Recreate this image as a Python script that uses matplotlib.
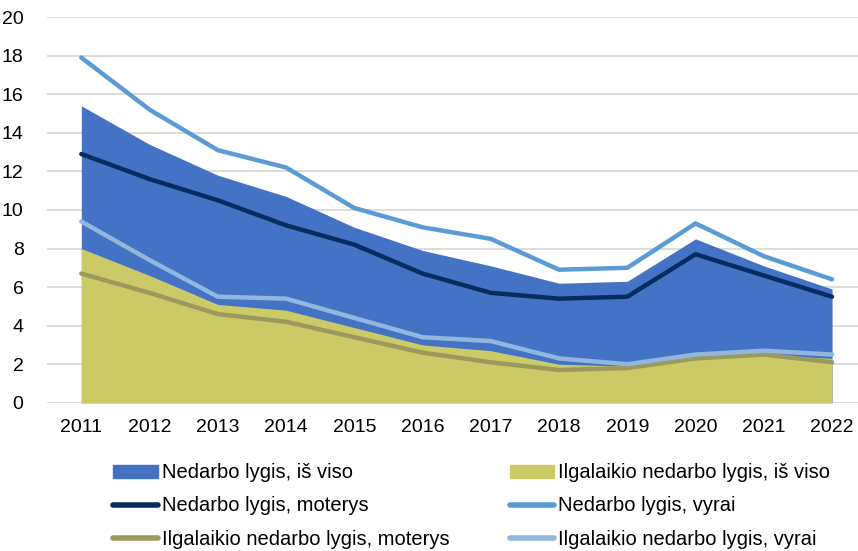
import numpy as np
import matplotlib.pyplot as plt
from matplotlib.patches import Patch
from matplotlib.lines import Line2D

plt.rcParams['font.family'] = ['Liberation Sans', 'DejaVu Sans']

# Duomenys
metai = ['2011', '2012', '2013', '2014', '2015', '2016', '2017', '2018', '2019', '2020', '2021', '2022']
nedarbo_viso = [15.4, 13.4, 11.8, 10.7, 9.1, 7.9, 7.1, 6.2, 6.3, 8.5, 7.1, 5.9]
ilgalaikio_viso = [8.0, 6.6, 5.1, 4.8, 3.9, 3.0, 2.7, 2.0, 1.9, 2.3, 2.5, 2.3]
nedarbo_moterys = [12.9, 11.6, 10.5, 9.2, 8.2, 6.7, 5.7, 5.4, 5.5, 7.7, 6.6, 5.5]
nedarbo_vyrai = [17.9, 15.2, 13.1, 12.2, 10.1, 9.1, 8.5, 6.9, 7.0, 9.3, 7.6, 6.4]
ilgalaikio_moterys = [6.7, 5.7, 4.6, 4.2, 3.4, 2.6, 2.1, 1.7, 1.8, 2.3, 2.5, 2.1]
ilgalaikio_vyrai = [9.4, 7.4, 5.5, 5.4, 4.4, 3.4, 3.2, 2.3, 2.0, 2.5, 2.7, 2.5]

x = np.arange(len(metai))

fig = plt.figure(figsize=(8.58, 5.51), dpi=100)
ax = fig.add_axes([0.055, 0.269, 0.945, 0.7])

# Plotai
ax.fill_between(x, 0, nedarbo_viso, color='#4472C4', lw=0, zorder=2)
ax.fill_between(x, 0, ilgalaikio_viso, color='#CACB67', lw=0, zorder=3)

# Linijos
ax.plot(x, nedarbo_moterys, color='#072C61', lw=3.2, solid_capstyle='round', zorder=4)
ax.plot(x, nedarbo_vyrai, color='#5B9BD5', lw=3.2, solid_capstyle='round', zorder=4)
ax.plot(x, ilgalaikio_moterys, color='#9A9A5C', lw=3.2, solid_capstyle='round', zorder=4)
ax.plot(x, ilgalaikio_vyrai, color='#92B7DE', lw=3.2, solid_capstyle='round', zorder=5)

ax.set_xlim(-0.5, 11.38)
ax.set_ylim(0, 20)
ax.set_yticks(range(0, 21, 2))
ax.set_xticks(x)
ax.set_xticklabels(metai)
ax.tick_params(length=0, labelsize=14, colors='black')
ax.tick_params(axis='x', pad=12)
ax.tick_params(axis='y', pad=17)
ax.grid(axis='y', color='#D9D9D9', lw=1.3, zorder=0)
for s in ax.spines.values():
    s.set_visible(False)

# Legenda
handles = [
    Patch(color='#4472C4'),
    Line2D([], [], color='#072C61', lw=4, solid_capstyle='round'),
    Line2D([], [], color='#9A9A5C', lw=4, solid_capstyle='round'),
    Patch(color='#CACB67'),
    Line2D([], [], color='#5B9BD5', lw=4, solid_capstyle='round'),
    Line2D([], [], color='#92B7DE', lw=4, solid_capstyle='round'),
]
labels = [
    'Nedarbo lygis, iš viso',
    'Nedarbo lygis, moterys',
    'Ilgalaikio nedarbo lygis, moterys',
    'Ilgalaikio nedarbo lygis, iš viso',
    'Nedarbo lygis, vyrai',
    'Ilgalaikio nedarbo lygis, vyrai',
]
fig.legend(handles, labels, ncol=2, loc='upper left', bbox_to_anchor=(0.132, 0.159),
           frameon=False, fontsize=14.5, handlelength=2.2, handleheight=0.6,
           handletextpad=0.2, columnspacing=3.0, labelspacing=0.7,
           borderaxespad=0, borderpad=0)

fig.savefig('out.png', dpi=100)
